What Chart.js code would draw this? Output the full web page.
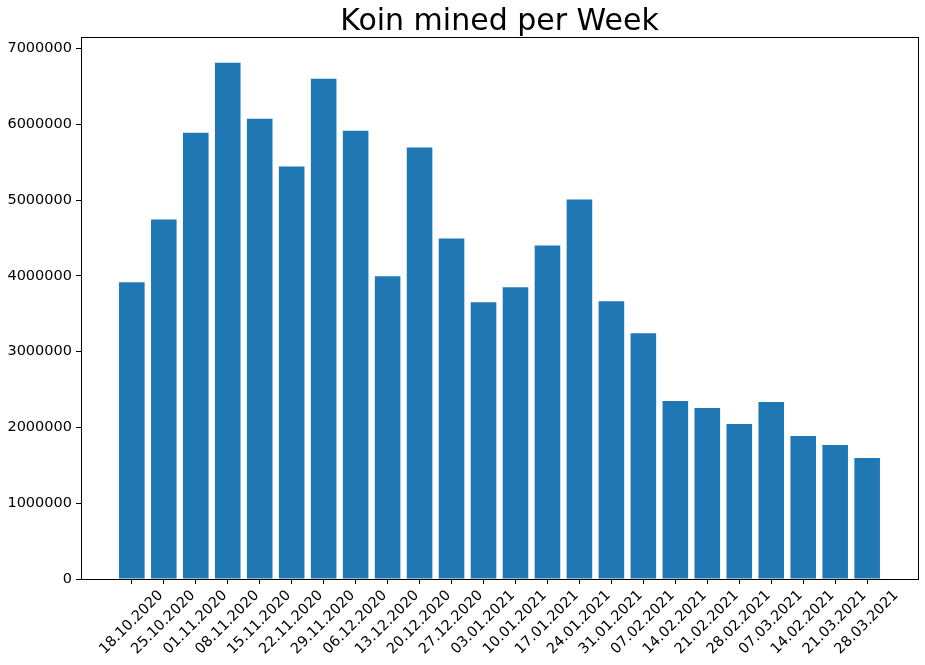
<!DOCTYPE html>
<html><head><meta charset="utf-8">
<script src="https://cdn.jsdelivr.net/npm/chart.js@4.4.1/dist/chart.umd.min.js"></script>
<style>html,body{margin:0;padding:0;background:#fff}</style>
</head><body>
<canvas id="c" width="925" height="665"></canvas>
<script>
const weeks = ["18.10.2020","25.10.2020","01.11.2020","08.11.2020","15.11.2020","22.11.2020","29.11.2020","06.12.2020","13.12.2020","20.12.2020","27.12.2020","03.01.2021","10.01.2021","17.01.2021","24.01.2021","31.01.2021","07.02.2021","14.02.2021","21.02.2021","28.02.2021","07.03.2021","14.02.2021","21.03.2021","28.03.2021"];
const koinMined = [3915000,4745000,5890000,6812000,6075000,5442000,6601000,5917000,3994000,5693000,4494000,3652000,3849000,4402000,5008000,3665000,3243000,2348000,2256000,2045000,2335000,1887000,1769000,1597000];
const yTicks = [0,1000000,2000000,3000000,4000000,5000000,6000000,7000000];
const titleText = "Koin mined per Week";

Chart.defaults.font.family = "'DejaVu Sans', sans-serif";
Chart.defaults.color = "#000";

const n = weeks.length;
const xMin = -0.4 - 0.05 * (n - 1 + 0.8);
const xMax = n - 1 + 0.4 + 0.05 * (n - 1 + 0.8);
const yMax = Math.max(...koinMined) * 1.05;

const framePlugin = {
  id: 'frame',
  afterDatasetsDraw(chart) {
    const {ctx, chartArea: a} = chart;
    ctx.save();
    ctx.strokeStyle = '#000';
    ctx.lineWidth = 1;
    const l = Math.round(a.left) + 0.5, r = Math.round(a.right) + 0.5;
    const t = Math.round(a.top) + 0.5, b = Math.round(a.bottom) + 0.5;
    ctx.strokeRect(l, t, r - l, b - t);
    ctx.restore();
  }
};

new Chart(document.getElementById('c'), {
  type: 'bar',
  data: {
    datasets: [{
      data: koinMined.map((v, i) => ({x: i, y: v})),
      backgroundColor: '#1f77b4',
      borderWidth: 0,
      barPercentage: 0.8,
      categoryPercentage: 1.0
    }]
  },
  options: {
    responsive: false,
    animation: false,
    devicePixelRatio: 1,
    layout: {padding: {left: 0, right: 7, top: 0, bottom: 0}},
    plugins: {
      legend: {display: false},
      tooltip: {enabled: false},
      title: {
        display: true,
        text: titleText,
        fullSize: false,
        color: '#000',
        font: {size: 30, weight: 'normal', lineHeight: 1.0, family: "'DejaVu Sans', sans-serif"},
        padding: {top: 7, bottom: 0}
      }
    },
    scales: {
      x: {
        type: 'linear',
        offset: false,
        min: xMin,
        max: xMax,
        afterBuildTicks: s => { s.ticks = weeks.map((_, i) => ({value: i})); },
        afterFit: s => { s.height = 86; },
        border: {display: false},
        grid: {display: true, offset: false, drawOnChartArea: false, drawTicks: true, tickLength: 5, tickColor: '#000', tickWidth: 1},
        ticks: {
          autoSkip: false,
          minRotation: 45,
          maxRotation: 45,
          labelOffset: 29,
          padding: 3,
          color: '#000',
          font: {size: 14.5},
          callback: (v, i) => weeks[i]
        }
      },
      y: {
        type: 'linear',
        min: 0,
        max: yMax,
        afterBuildTicks: s => { s.ticks = yTicks.map(v => ({value: v})); },
        afterFit: s => { s.width = 81; },
        border: {display: false},
        grid: {display: true, drawOnChartArea: false, drawTicks: true, tickLength: 5, tickColor: '#000', tickWidth: 1},
        ticks: {
          padding: 4,
          color: '#000',
          font: {size: 14.5},
          callback: v => String(v)
        }
      }
    }
  },
  plugins: [framePlugin]
});
</script>
</body></html>
